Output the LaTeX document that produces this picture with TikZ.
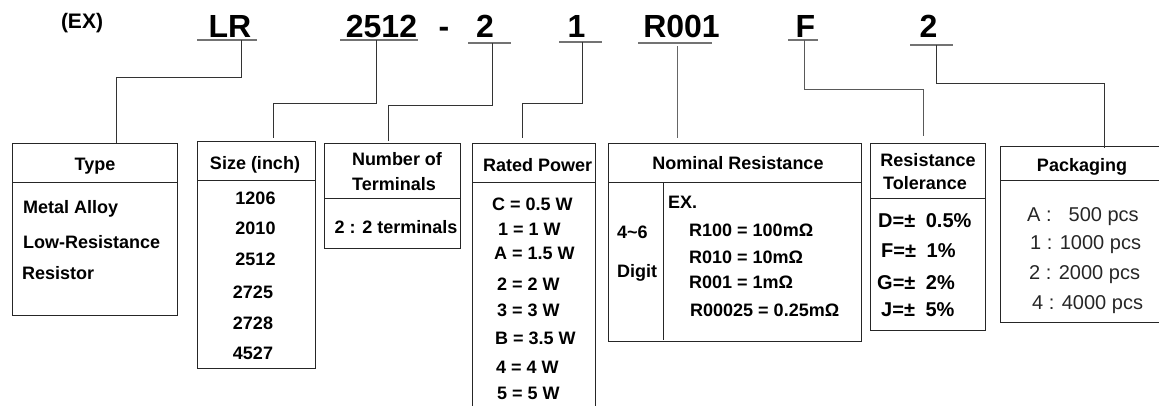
\documentclass[tikz,border=0pt]{standalone}
\usepackage{fontspec}
\setmainfont{Liberation Sans}
\begin{document}
\begin{tikzpicture}[x=1pt,y=-1pt,
  code/.style={font=\fontsize{32}{32}\selectfont\bfseries, inner sep=0pt, anchor=base},
  excode/.style={font=\fontsize{21}{21}\selectfont\bfseries, inner sep=0pt, anchor=base},
  uline/.style={draw=black!55, line width=1.2pt},
  conn/.style={draw=black!80, line width=1pt},
  box/.style={draw=black!85, line width=1pt, inner sep=0pt, anchor=north west},
  rule/.style={draw=black!85, line width=1pt},
  hd/.style={font=\fontsize{18}{18}\selectfont\bfseries, inner sep=0pt, text height=12.9pt, text depth=0pt},
  lt/.style={hd, anchor=west},
  bg/.style={font=\fontsize{20}{20}\selectfont\bfseries, inner sep=0pt, text height=14.3pt, text depth=0pt, anchor=west},
  pk/.style={font=\fontsize{20}{20}\selectfont, text=black!85, inner sep=0pt, text height=14.3pt, text depth=0pt, anchor=west}]
\useasboundingbox (0,0) rectangle (1159,405);
\clip (0,0) rectangle (1159,405);

% ---- code line ----
\node[excode] (ex) at (82,28) {(EX)};
\node[code] (cLR) at (230,37) {LR};
\node[code] (cSize) at (381.5,37) {2512};
\node[code] (cDash) at (444,37) {-};
\node[code] (cTerm) at (485,37) {2};
\node[code] (cPow) at (576.5,37) {1};
\node[code] (cRes) at (681.5,37) {R001};
\node[code] (cTol) at (805.5,37) {F};
\node[code] (cPack) at (928.5,37) {2};

\draw[uline] (197,40) -- (257,40);
\draw[uline] (340,40) -- (418,40);
\draw[uline] (468,43) -- (511,43);
\draw[uline] (559,42) -- (602,42);
\draw[uline] (638,43) -- (712,43);
\draw[uline] (788,40) -- (818,40);
\draw[uline] (910,45) -- (953,45);

\coordinate (kLR) at (241,40);
\coordinate (kSize) at (376,40);
\coordinate (kTerm) at (492,43);
\coordinate (kPow) at (582,42);
\coordinate (kRes) at (677,46);
\coordinate (kTol) at (804,40);
\coordinate (kPack) at (936,45);

% ---- boxes ----
\node[box, minimum width=165pt, minimum height=172pt] (bType) at (12,143) {};
\node[box, minimum width=118pt, minimum height=227pt] (bSize) at (197,141) {};
\node[box, minimum width=136pt, minimum height=105pt] (bTerm) at (324,143) {};
\node[box, minimum width=123pt, minimum height=275pt] (bPow) at (472,143) {};
\node[box, minimum width=253pt, minimum height=198pt] (bRes) at (608,143) {};
\node[box, minimum width=115pt, minimum height=187pt] (bTol) at (870,143) {};
\node[box, minimum width=175pt, minimum height=176pt] (bPack) at (1000,146) {};

\draw[rule] (bType.west |- 0,182) -- (bType.east |- 0,182);
\draw[rule] (bSize.west |- 0,180) -- (bSize.east |- 0,180);
\draw[rule] (bTerm.west |- 0,198) -- (bTerm.east |- 0,198);
\draw[rule] (bPow.west |- 0,182) -- (bPow.east |- 0,182);
\draw[rule] (bRes.west |- 0,182) -- (bRes.east |- 0,182);
\draw[rule] (663,182) -- (663,340);
\draw[rule] (bTol.west |- 0,198) -- (bTol.east |- 0,198);
\draw[rule] (bPack.west |- 0,180) -- (bPack.east |- 0,180);

% ---- connectors ----
\draw[conn] (kLR) |- (116,77) -- (116,77 |- bType.north);
\draw[conn] (kSize) |- (273,103) -- ([yshift=3pt]273,103 |- bSize.north);
\draw[conn] (kTerm) |- (388,105) -- ([yshift=2pt]388,105 |- bTerm.north);
\draw[conn] (kPow) |- (522,103) -- ([yshift=5pt]522,103 |- bPow.north);
\draw[conn, draw=black!60] (kRes) -- ([yshift=5pt]kRes |- bRes.north);
\draw[conn, draw=black!65] (kTol) |- (923,89) -- ([yshift=7pt]923,89 |- bTol.north);
\draw[conn] (kPack) |- (1104,83) -- ([yshift=-2pt]1104,83 |- bPack.north);

% ---- Type ----
\node[hd] (tType) at (95,164) {Type};
\node[lt] (tType1) at (23,207) {Metal Alloy};
\node[lt] (tType2) at (23,242) {Low-Resistance};
\node[lt] (tType3) at (22,273) {Resistor};

% ---- Size ----
\node[hd] (tSize) at (255,163) {Size (inch)};
\node[hd] (s1) at (255.5,198) {1206};
\node[hd] (s2) at (255.5,228) {2010};
\node[hd] (s3) at (255.5,259) {2512};
\node[hd] (s4) at (253,292) {2725};
\node[hd] (s5) at (253,323) {2728};
\node[hd] (s6) at (253,353) {4527};

% ---- Terminals ----
\node[hd] (tTerm1) at (397,159) {Number of};
\node[hd] (tTerm2) at (394,184) {Terminals};
\node[hd] (tTerm3) at (396,227) {2 : 2 terminals};

% ---- Rated power ----
\node[lt] (tPow) at (483,165) {Rated Power};
\node[lt] (p1) at (492,204) {C = 0.5 W};
\node[lt] (p2) at (498,229) {1 = 1 W};
\node[lt] (p3) at (494,253) {A = 1.5 W};
\node[lt] (p4) at (497,284) {2 = 2 W};
\node[lt] (p5) at (497,310) {3 = 3 W};
\node[lt] (p6) at (495,338) {B = 3.5 W};
\node[lt] (p7) at (496,367) {4 = 4 W};
\node[lt] (p8) at (497,393) {5 = 5 W};

% ---- Nominal resistance ----
\node[hd] (tRes) at (738,163) {Nominal Resistance};
\node[lt] (rEx) at (668,202) {EX.};
\node[lt] (rD1) at (617,232) {4\textasciitilde 6};
\node[lt] (rD2) at (617,271) {Digit};
\node[lt] (r1) at (689,230) {R100 = 100mΩ};
\node[lt] (r2) at (689,257) {R010 = 10mΩ};
\node[lt] (r3) at (689,282) {R001 = 1mΩ};
\node[lt] (r4) at (690,310) {R00025 = 0.25mΩ};

% ---- Tolerance ----
\node[hd] (tTol1) at (928,160) {Resistance};
\node[hd] (tTol2) at (925,183) {Tolerance};
\node[bg] (t1) at (878,220) {D=±\hspace{5pt} 0.5\%};
\node[bg] (t2) at (881,250) {F=±\hspace{5pt} 1\%};
\node[bg] (t3) at (877,282) {G=±\hspace{5pt} 2\%};
\node[bg] (t4) at (881,309) {J=±\hspace{5pt} 5\%};

% ---- Packaging ----
\node[hd] (tPack) at (1082,165) {Packaging};
\node[pk] (k1) at (1027,214) {A :\hspace{17pt}500 pcs};
\node[pk] (k2) at (1030,242) {1 : 1000 pcs};
\node[pk] (k3) at (1029,272) {2 : 2000 pcs};
\node[pk] (k4) at (1032,302) {4 : 4000 pcs};
\end{tikzpicture}
\end{document}
